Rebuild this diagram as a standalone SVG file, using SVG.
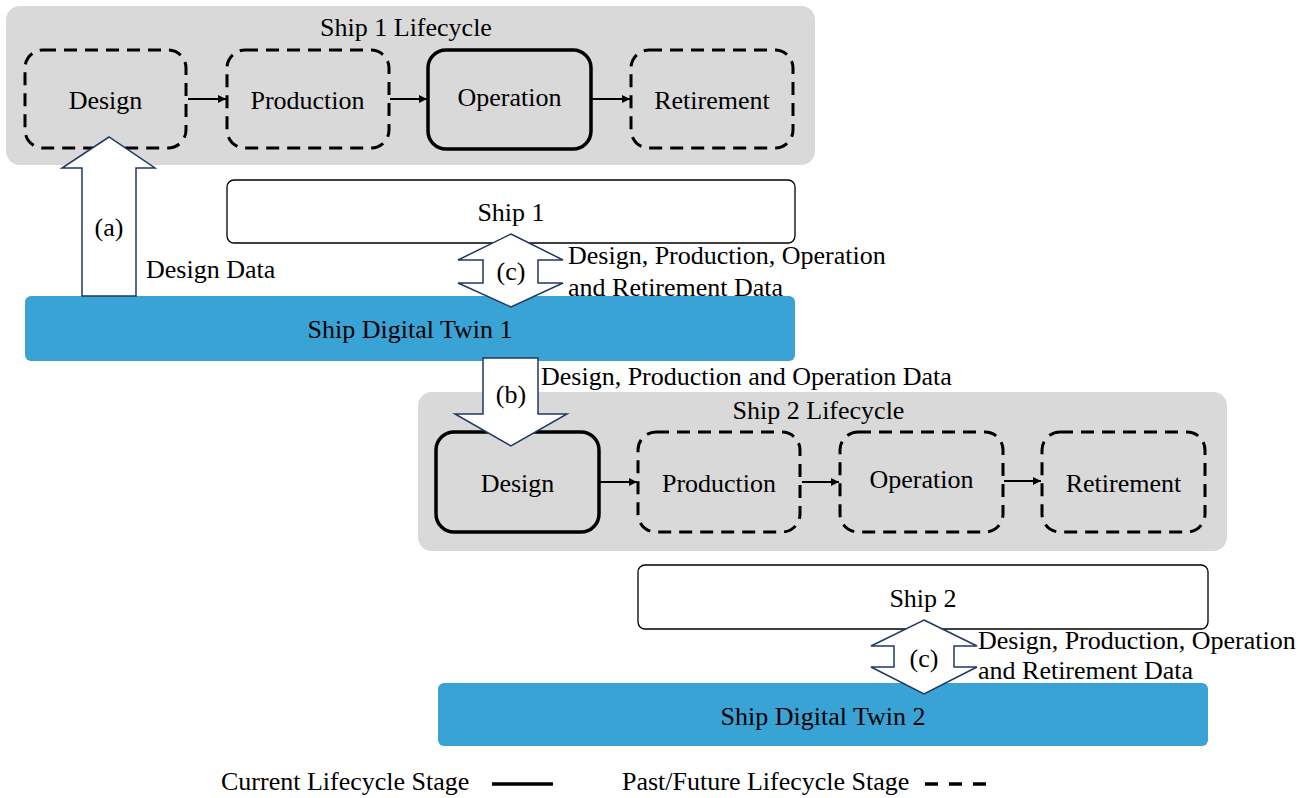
<svg xmlns="http://www.w3.org/2000/svg" width="1315" height="798" viewBox="0 0 1315 798">
  <defs>
    <style>
      text { font-family: "Liberation Serif", "Times New Roman", serif; font-size: 26px; fill: #000; }
      .mid { text-anchor: middle; }
      .lane { fill: #d9d9d9; }
      .stage-past { fill: none; stroke: #000; stroke-width: 3; stroke-dasharray: 13 8; }
      .stage-now { fill: none; stroke: #000; stroke-width: 3.5; }
      .ship { fill: #fff; stroke: #000; stroke-width: 1.3; }
      .twin { fill: #39a3d6; }
      .flow { fill: #fff; stroke: #1f3864; stroke-width: 1.5; stroke-linejoin: miter; }
      .link { stroke: #000; stroke-width: 2; fill: none; marker-end: url(#head); }
    </style>
    <marker id="head" markerUnits="userSpaceOnUse" markerWidth="9" markerHeight="9" refX="8" refY="4" orient="auto">
      <path d="M0,0 L8,4 L0,8 z" fill="#000"/>
    </marker>
  </defs>

  <!-- Ship 1 lifecycle lane -->
  <g id="ship1-lifecycle">
    <rect class="lane" x="6" y="6" width="809" height="159" rx="14"/>
    <text class="mid" x="406" y="36">Ship 1 Lifecycle</text>
  </g>
  <g id="s1-design">
    <rect class="stage-past" x="25" y="50" width="161" height="98" rx="18"/>
    <text class="mid" x="105.5" y="109">Design</text>
  </g>
  <g id="s1-production">
    <rect class="stage-past" x="227" y="50" width="162" height="98" rx="18"/>
    <text class="mid" x="307.5" y="109">Production</text>
  </g>
  <g id="s1-operation">
    <rect class="stage-now" x="428" y="50" width="163" height="99" rx="18"/>
    <text class="mid" x="509.5" y="106">Operation</text>
  </g>
  <g id="s1-retirement">
    <rect class="stage-past" x="631" y="50" width="162" height="98" rx="18"/>
    <text class="mid" x="712" y="109">Retirement</text>
  </g>

  <!-- Ship 1 and its twin -->
  <g id="ship1">
    <rect class="ship" x="227" y="180" width="568" height="63" rx="7"/>
    <text class="mid" x="511" y="221">Ship 1</text>
  </g>
  <g id="twin1">
    <rect class="twin" x="25" y="296" width="770" height="65" rx="6"/>
    <text class="mid" x="410" y="338">Ship Digital Twin 1</text>
  </g>

  <!-- Ship 2 lifecycle lane -->
  <g id="ship2-lifecycle">
    <rect class="lane" x="418" y="392" width="809" height="159" rx="14"/>
    <text class="mid" x="818.5" y="419">Ship 2 Lifecycle</text>
  </g>
  <g id="s2-design">
    <rect class="stage-now" x="436" y="432" width="163" height="100" rx="18"/>
    <text class="mid" x="517.5" y="492">Design</text>
  </g>
  <g id="s2-production">
    <rect class="stage-past" x="638" y="432" width="162" height="100" rx="18"/>
    <text class="mid" x="719" y="492">Production</text>
  </g>
  <g id="s2-operation">
    <rect class="stage-past" x="840" y="432" width="163" height="100" rx="18"/>
    <text class="mid" x="921.5" y="488">Operation</text>
  </g>
  <g id="s2-retirement">
    <rect class="stage-past" x="1042" y="432" width="163" height="100" rx="18"/>
    <text class="mid" x="1123.5" y="492">Retirement</text>
  </g>

  <!-- Ship 2 and its twin -->
  <g id="ship2">
    <rect class="ship" x="638" y="565" width="570" height="64" rx="7"/>
    <text class="mid" x="923" y="607">Ship 2</text>
  </g>
  <g id="twin2">
    <rect class="twin" x="438" y="683" width="770" height="63" rx="6"/>
    <text class="mid" x="823" y="725">Ship Digital Twin 2</text>
  </g>

  <!-- Connectors: stage transitions and data flows -->
  <g id="connectors">
    <line class="link" x1="188" y1="99" x2="226" y2="99"/>
    <line class="link" x1="390" y1="99" x2="427" y2="99"/>
    <line class="link" x1="592" y1="99" x2="630" y2="99"/>
    <line class="link" x1="600" y1="482" x2="637" y2="482"/>
    <line class="link" x1="802" y1="482" x2="839" y2="482"/>
    <line class="link" x1="1004" y1="481" x2="1041" y2="481"/>

    <!-- (a) twin 1 to ship 1 design -->
    <polygon class="flow" points="82,296 136,296 136,168 155,168 109,137 62,168 82,168"/>
    <text class="mid" x="109" y="236">(a)</text>
    <text x="146" y="278">Design Data</text>

    <!-- (c) ship 1 and twin 1 exchange -->
    <polygon class="flow" points="511,234 563,260 538,260 538,283 563,283 511,307 458,283 483,283 483,260 458,260"/>
    <text class="mid" x="511" y="280">(c)</text>
    <text x="568" y="264">Design, Production, Operation</text>
    <text x="568" y="296">and Retirement Data</text>

    <!-- (b) twin 1 to ship 2 design -->
    <polygon class="flow" points="483,358 538,358 538,414 567,414 511,446 455,414 483,414"/>
    <text class="mid" x="511" y="403">(b)</text>
    <text x="541" y="385">Design, Production and Operation Data</text>

    <!-- (c) ship 2 and twin 2 exchange -->
    <polygon class="flow" points="924,620 977,646 954,646 954,667 977,667 924,694 871,667 894,667 894,646 871,646"/>
    <text class="mid" x="924" y="667">(c)</text>
    <text x="978" y="649">Design, Production, Operation</text>
    <text x="978" y="679">and Retirement Data</text>
  </g>

  <!-- Legend -->
  <g id="legend">
    <text x="221" y="790">Current Lifecycle Stage</text>
    <line x1="492" y1="784" x2="553" y2="784" stroke="#000" stroke-width="3.5"/>
    <text x="622" y="790">Past/Future Lifecycle Stage</text>
    <line x1="925" y1="784" x2="988" y2="784" stroke="#000" stroke-width="3.5" stroke-dasharray="13 11"/>
  </g>
</svg>
